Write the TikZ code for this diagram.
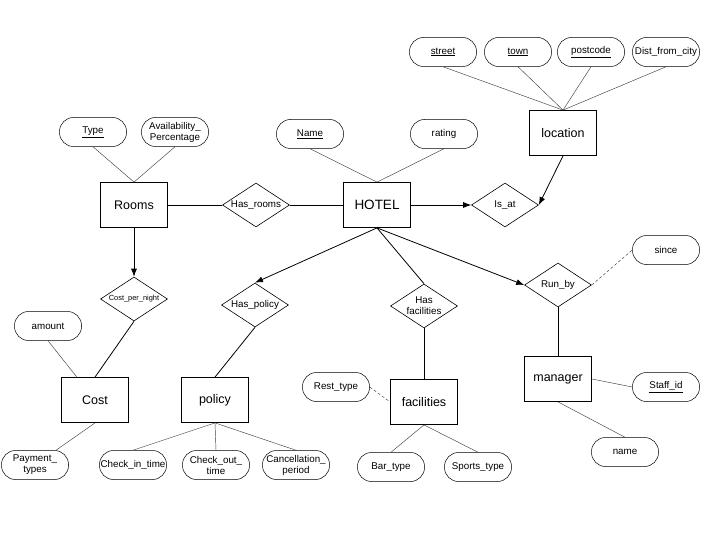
\documentclass[tikz,border=0pt]{standalone}
\usepackage{fontspec}
\setmainfont{Liberation Sans}
\usetikzlibrary{shapes.geometric,arrows.meta}

\begin{document}
\begin{tikzpicture}[x=1pt,y=-1pt,
    entity/.style={rectangle,draw,line width=.8pt,minimum width=67pt,minimum height=45pt,
      font=\fontsize{12.5}{14}\selectfont},
    rel/.style={diamond,draw,line width=.6pt,aspect=1.5,inner sep=0pt,
      minimum width=67pt,minimum height=44pt,align=center,font=\fontsize{9.8}{11}\selectfont},
    attr/.style={rectangle,rounded corners=14pt,draw,line width=.5pt,inner sep=1pt,
      minimum width=67pt,minimum height=29pt,align=center,font=\fontsize{9.8}{11}\selectfont},
    link/.style={draw,line width=.8pt},
    alink/.style={draw,line width=.45pt,black!75},
    arr/.style={link,-{Latex[length=8pt,width=6pt]}}]

  \useasboundingbox (0,0) rectangle (720,540);

  % entities
  \begin{scope}[every node/.style={entity}]
    \node (hotel)      at (377,205) {\fontsize{13.5}{15}\selectfont HOTEL};
    \node (rooms)      at (134,205) {Rooms};
    \node (location)   at (563,133) {location};
    \node (cost)       at (95,400)  {Cost};
    \node (policy)     at (215,400) {policy};
    \node (facilities) at (424,402) {facilities};
    \node (manager)    at (558,379) {manager};
  \end{scope}

  % relationships
  \begin{scope}[every node/.style={rel}]
    \node (hasrooms)  at (256,205) {Has\_rooms};
    \node (isat)      at (505,205) {Is\_at};
    \node (costnight) at (134,299) {\fontsize{7.4}{8}\selectfont Cost\_per\_night};
    \node (haspolicy) at (255,305) {Has\_policy};
    \node (hasfac)    at (424,306) {Has\\facilities};
    \node (runby)     at (558,285) {Run\_by};
  \end{scope}

  % attributes
  \begin{scope}[every node/.style={attr}]
    \node (street)   at (443,52)  {\underline{street}};
    \node (town)     at (518,52)  {\underline{town}};
    \node (postcode) at (591,52)  {\underline{postcode}};
    \node (dist)     at (666,52)  {Dist\_from\_city};
    \node (type)     at (93,132)  {\underline{Type}};
    \node (avail)    at (175,132) {Availability\_\\Percentage};
    \node (name)     at (310,134) {\underline{Name}};
    \node (rating)   at (444,134) {rating};
    \node (amount)   at (48,326)  {amount};
    \node (since)    at (666,250) {since};
    \node (rest)     at (336,387) {Rest\_type};
    \node (staffid)  at (666,387) {\underline{Staff\_id}};
    \node (mname)    at (625,452) {name};
    \node (payment)  at (35,465)  {Payment\_\\types};
    \node (checkin)  at (133,465) {Check\_in\_time};
    \node (checkout) at (216,465) {Check\_out\_\\time};
    \node (cancel)   at (296,465) {Cancellation\_\\period};
    \node (bar)      at (391,467) {Bar\_type};
    \node (sports)   at (478,467) {Sports\_type};
  \end{scope}

  % relationship lines
  \begin{scope}[every edge/.style={link}]
    \path (rooms.east)      edge (hasrooms.west);
    \path (hasrooms.east)   edge (hotel.west);
    \path (hotel.south)     edge (hasfac.north);
    \path (costnight.south) edge (cost.north);
    \path (haspolicy.south) edge (policy.north);
    \path (hasfac.south)    edge (facilities.north);
    \path (runby.south)     edge (manager.north);
  \end{scope}

  \begin{scope}[every edge/.style={arr}]
    \path (hotel.east)      edge (isat.west);
    \path (location.south)  edge (isat.east);
    \path (rooms.south)     edge (costnight.north);
    \path (hotel.south)     edge (haspolicy.north);
    \path (hotel.south)     edge (runby.west);
  \end{scope}

  % attribute lines
  \begin{scope}[every edge/.style={alink}]
    \path (street.south)   edge (location.north);
    \path (town.south)     edge (location.north);
    \path (postcode.south) edge (location.north);
    \path (dist.south)     edge (location.north);
    \path (type.south)     edge (rooms.north);
    \path (avail.south)    edge (rooms.north);
    \path (name.south)     edge (hotel.north);
    \path (rating.south)   edge (hotel.north);
    \path (amount.south)   edge (cost);
    \path (cost.south)     edge (payment);
    \path (policy.south)   edge (checkin.north);
    \path (policy.south)   edge (checkout.north);
    \path (policy.south)   edge (cancel.north);
    \path (facilities.south) edge (bar.north);
    \path (facilities.south) edge (sports.north);
    \path (rest.east)      edge[densely dashed] (facilities.west);
    \path (runby.east)     edge[densely dashed] (since.west);
    \path (manager.east)   edge (staffid.west);
    \path (manager.south)  edge (mname.north);
  \end{scope}

\end{tikzpicture}
\end{document}
